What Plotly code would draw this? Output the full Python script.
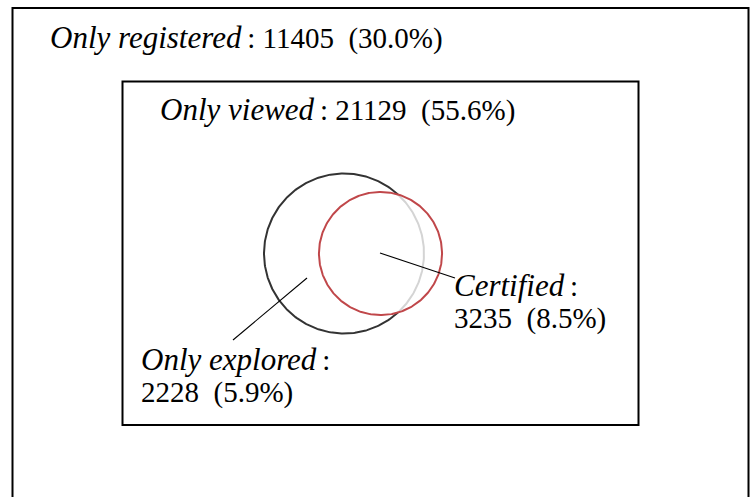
import numpy as np
import plotly.graph_objects as go

# ---- data ----
region_names = ["Only registered", "Only viewed", "Only explored", "Certified"]
region_counts = [11405, 21129, 2228, 3235]
total = sum(region_counts)
region_pcts = [100.0 * c / total for c in region_counts]

# Venn set sizes (explored set = only explored + certified; certified set)
explored_size = region_counts[2] + region_counts[3]
certified_size = region_counts[3]

W, H = 752, 497
FONT = "Liberation Serif"
FS = 29
FSI = 31

fig = go.Figure()

# circle geometry (area proportional to set size)
k = 80.0 / np.sqrt(explored_size)
r_exp = k * np.sqrt(explored_size)
r_cert = k * np.sqrt(certified_size)
cx_exp, cy = 344.0, 253.5
cx_cert = 380.5

d = cx_cert - cx_exp
a = (d**2 + r_exp**2 - r_cert**2) / (2 * d)
ang = np.arccos(a / r_exp)

tb = np.linspace(ang, 2 * np.pi - ang, 300)
fig.add_trace(go.Scatter(x=cx_exp + r_exp * np.cos(tb), y=cy + r_exp * np.sin(tb),
                         mode="lines", line=dict(color="#333333", width=2), hoverinfo="skip"))
ta = np.linspace(-ang, ang, 100)
fig.add_trace(go.Scatter(x=cx_exp + r_exp * np.cos(ta), y=cy + r_exp * np.sin(ta),
                         mode="lines", line=dict(color="#d4d4d4", width=2), hoverinfo="skip"))
t = np.linspace(0, 2 * np.pi, 361)
fig.add_trace(go.Scatter(x=cx_cert + r_cert * np.cos(t), y=cy + r_cert * np.sin(t),
                         mode="lines", line=dict(color="#c0474a", width=2), hoverinfo="skip"))

# leader lines
fig.add_trace(go.Scatter(x=[380, 455], y=[253, 278], mode="lines",
                         line=dict(color="black", width=1.1), hoverinfo="skip"))
fig.add_trace(go.Scatter(x=[307, 233], y=[278, 340], mode="lines",
                         line=dict(color="black", width=1.1), hoverinfo="skip"))

# rectangles
fig.add_shape(type="rect", x0=12.5, x1=748.5, y0=8, y1=520,
              line=dict(color="black", width=2), layer="below")
fig.add_shape(type="rect", x0=122.5, x1=638.5, y0=81.5, y1=425,
              line=dict(color="black", width=2), layer="below")

SP = "\u2002"
TH = "\u2009"

def it(s):
    return f"<span style='font-size:{FSI}px'><i>{s}</i></span>"

def lab(i):
    return f"{it(region_names[i])}{TH}: {region_counts[i]}{SP}({region_pcts[i]:.1f}%)"

def ann(x, y, text):
    fig.add_annotation(x=x, y=y, text=text, showarrow=False, xanchor="left", yanchor="middle",
                       align="left", font=dict(family=FONT, size=FS, color="black"))

ann(48, 37, lab(0))
ann(158, 109, lab(1))
ann(139, 359, f"{it(region_names[2])}{TH}:")
ann(139, 392, f"{region_counts[2]}{SP}({region_pcts[2]:.1f}%)")
ann(452, 285, f"{it(region_names[3])}{TH}:")
ann(452, 318, f"{region_counts[3]}{SP}({region_pcts[3]:.1f}%)")

fig.update_layout(
    width=W, height=H, margin=dict(l=0, r=0, t=0, b=0),
    paper_bgcolor="white", plot_bgcolor="white", showlegend=False,
    xaxis=dict(range=[0, W], visible=False, fixedrange=True),
    yaxis=dict(range=[H, 0], visible=False, fixedrange=True),
)
fig.write_html("out.html", config={"displayModeBar": False, "staticPlot": True},
               post_script="document.body.style.margin='0';document.body.style.overflow='hidden';")
